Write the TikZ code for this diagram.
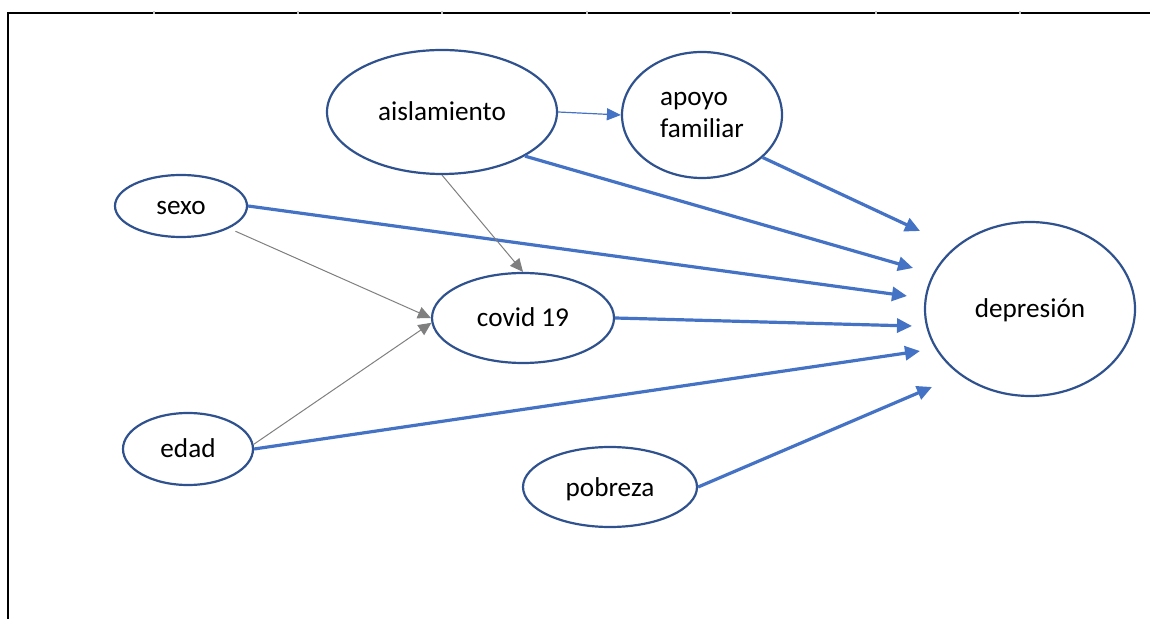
\documentclass[tikz,border=0pt]{standalone}
\usepackage{fontspec}
\setmainfont{Carlito}
\usetikzlibrary{shapes.geometric,arrows.meta}
\definecolor{ellc}{HTML}{2F528F}
\definecolor{arrc}{HTML}{4472C4}
\definecolor{grayc}{HTML}{7F7F7F}
\definecolor{tickc}{HTML}{C8C8C8}
\begin{document}
\begin{tikzpicture}[x=0.5pt,y=-0.5pt,
  var/.style={ellipse,draw=ellc,line width=1.1pt,inner sep=0pt,fill=white,
    font=\fontsize{13.6}{16}\selectfont},
  oneline/.style={text height=10pt,text depth=1pt},
  bluearrow/.style={draw=arrc,line width=1.6pt,-{Triangle[length=7.5pt,width=7pt]}},
  thinblue/.style={draw=arrc,line width=0.6pt,-{Triangle[length=7pt,width=6pt]}},
  grayarrow/.style={draw=grayc,line width=0.5pt,-{Triangle[length=6.5pt,width=6pt]}},
  frame/.style={draw=black,line width=0.8pt}]
\useasboundingbox (0,0) rectangle (1150,619);
% frame lines
\draw[frame] (8,619) -- (8,13) -- (1150,13);
\foreach \x in {154,298,442,587,731,876,1020}
  \draw[tickc,line width=1pt] (\x,11.5) -- (\x,14.5);
% nodes
\node[var,oneline,minimum width=115pt,minimum height=62pt] (ais) at (442,112) {aislamiento};
\node[var,minimum width=80pt,minimum height=63pt,align=left] (apo) at (702,115) {apoyo\\familiar};
\node[var,oneline,minimum width=66pt,minimum height=31pt] (sexo) at (181,206) {sexo};
\node[var,oneline,minimum width=91pt,minimum height=45pt] (cov) at (523,318) {covid 19};
\node[var,oneline,minimum width=65pt,minimum height=36pt] (edad) at (188,449) {edad};
\node[var,oneline,minimum width=87pt,minimum height=40pt] (pob) at (610,487) {pobreza};
\node[var,oneline,minimum width=105pt,minimum height=87pt] (dep) at (1030,309) {depresión};
% arrow tips near depresion
\coordinate (dapo) at (920,231);
\coordinate (dais) at (913,268);
\coordinate (dsexo) at (907,296);
\coordinate (dcov) at (912,326);
\coordinate (dedad) at (920,351);
\coordinate (dpob) at (932,387);
% blue arrows
\draw[thinblue] (ais.east) -- (apo.west);
\draw[bluearrow] (apo.-35) -- (dapo);
\draw[bluearrow] (ais.-28) -- (dais);
\draw[bluearrow] (sexo.east) -- (dsexo);
\draw[bluearrow] (cov.east) -- (dcov);
\draw[bluearrow] (edad.east) -- (dedad);
\draw[bluearrow] (pob.east) -- (dpob);
% gray arrows
\draw[grayarrow] (ais.south) -- (cov.north);
\draw[grayarrow,shorten <=3.5pt] (sexo.-25) -- (cov.west);
\draw[grayarrow] (edad.4) -- (cov.183);
\end{tikzpicture}
\end{document}
